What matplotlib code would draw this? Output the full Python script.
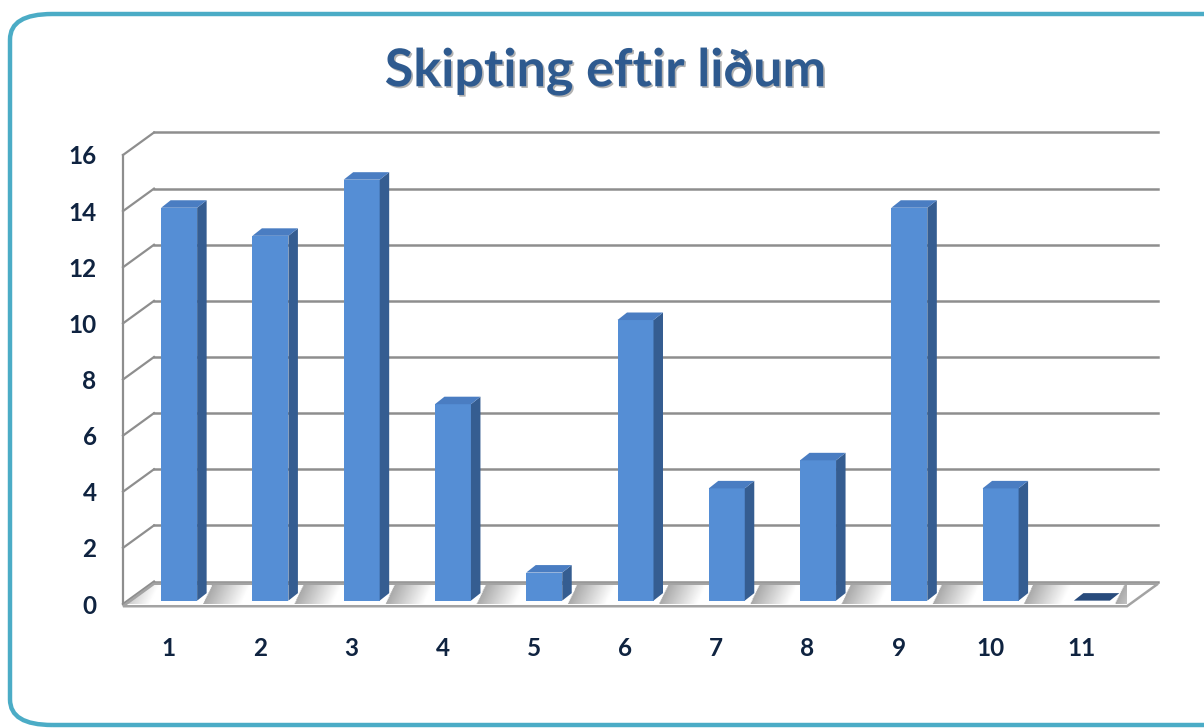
import matplotlib.pyplot as plt
import numpy as np
from matplotlib.patches import Polygon, FancyBboxPatch
import matplotlib.patheffects as pe

# data
categories = [1, 2, 3, 4, 5, 6, 7, 8, 9, 10, 11]
values = [14, 13, 15, 7, 1, 10, 4, 5, 14, 4, 0]
y_ticks = [0, 2, 4, 6, 8, 10, 12, 14, 16]
title = "Skipting eftir liðum"

FONT = ['Lato', 'DejaVu Sans']
GRID_C = '#8e8e8e'
TXT_C = '#0f2340'
FRONT_C = '#558ed5'
SIDE_C = '#355d91'
TOP_C = '#4a7dc2'

fig = plt.figure(figsize=(12.04, 7.28), dpi=100)
W, H = 1204, 728

# outer rounded border
border = FancyBboxPatch((10 / W, 3 / H), 1.2, (711) / H,
                        boxstyle="round,pad=0,rounding_size=0.035",
                        transform=fig.transFigure, fill=False,
                        edgecolor='#4bacc6', linewidth=3.2)
fig.patches.append(border)

fig.text(0.503, 1 - 72 / H, title, ha='center', va='center', fontsize=37.5,
         fontweight='bold', color='#2e5a8f', family=FONT,
         path_effects=[pe.withSimplePatchShadow(offset=(1.2, -1.2), shadow_rgbFace='#000000', alpha=0.3)])

# front plane of the plot box in pixels
ax = fig.add_axes([123 / W, 124 / H, 1004 / W, 449 / H])
ax.set_xlim(0.5, 11.5)
ax.set_ylim(0, 16)
ax.patch.set_visible(False)
px_x = 1004 / 11.0
px_y = 449 / 16.0

# depth offsets (data units)
dxb = 31 / px_x
dyb = 22.5 / px_y
bar_dx = 10.5 / px_x
bar_w = 36 / px_x
bar_bot = 0.12
side_dx = 9.5 / px_x
side_dy = 7.5 / px_y

for s in ['top', 'right', 'bottom']:
    ax.spines[s].set_visible(False)
ax.spines['left'].set_color(GRID_C)
ax.spines['left'].set_linewidth(1.6)

# back wall grid and side wall diagonals
for v in y_ticks:
    ax.plot([0.5 + dxb, 11.5 + dxb], [v + dyb, v + dyb], color=GRID_C, lw=1.8, clip_on=False, zorder=1)
    ax.plot([0.5, 0.5 + dxb], [v, v + dyb], color=GRID_C, lw=1.6, clip_on=False, zorder=1)

# floor with bar shadows
f0 = -0.08
floor_pts = [(0.5, f0), (11.5, f0), (11.5 + dxb, f0 + dyb), (0.5 + dxb, f0 + dyb)]
xs = np.linspace(0.5, 11.5 + dxb, 1200)
ts = np.linspace(0, 1, 40)
XX, TT = np.meshgrid(xs, ts)
edge = bar_dx + bar_w / 2 + side_dx * 0.5
ph = (XX - 1.0 - edge - TT * 0.35 * dxb) % 1.0
fade = np.clip(ph / 0.42, 0, 1)
shade = 0.66 + 0.34 * fade
shade = np.where(ph > 0.85, 1.0, shade)
shade[:3, :] = np.minimum(shade[:3, :], 0.85)
img = ax.imshow(shade, cmap='gray', vmin=0, vmax=1, origin='lower', aspect='auto',
                extent=(0.5, 11.5 + dxb, f0, f0 + dyb), zorder=2, interpolation='bilinear')
img.set_clip_box(None)
img.set_clip_path(Polygon(floor_pts, closed=True, transform=ax.transData))
ax.add_patch(Polygon(floor_pts, closed=True, facecolor='none', edgecolor='#a3a3a3', lw=1.8,
                     clip_on=False, zorder=3))
ax.set_xlim(0.5, 11.5)
ax.set_ylim(0, 16)

# bars: front faces
xpos = np.array(categories, dtype=float) + bar_dx
ax.bar(xpos, values, width=bar_w, bottom=bar_bot, color=FRONT_C, zorder=5, clip_on=False)
for x, v in zip(xpos, values):
    xl, xr = x - bar_w / 2, x + bar_w / 2
    top = bar_bot + v
    if v > 0:
        ax.add_patch(Polygon([(xr, bar_bot), (xr + side_dx, bar_bot + side_dy),
                              (xr + side_dx, top + side_dy), (xr, top)],
                             closed=True, facecolor=SIDE_C, edgecolor='none', zorder=5, clip_on=False))
        ax.add_patch(Polygon([(xl, top), (xr, top), (xr + side_dx, top + side_dy),
                              (xl + side_dx, top + side_dy)],
                             closed=True, facecolor=TOP_C, edgecolor='none', zorder=5, clip_on=False))
    else:
        ax.add_patch(Polygon([(xl, top), (xr, top), (xr + side_dx, top + side_dy),
                              (xl + side_dx, top + side_dy)],
                             closed=True, facecolor='#284b7c', edgecolor='none', zorder=5, clip_on=False))

ax.set_xticks(categories)
ax.set_xticklabels([str(c) for c in categories])
ax.set_yticks(y_ticks)
ax.set_yticklabels([str(v) for v in y_ticks])
ax.tick_params(axis='both', length=0, labelsize=17.5, labelcolor=TXT_C)
ax.tick_params(axis='x', pad=24)
ax.tick_params(axis='y', pad=19)
for lab in ax.get_xticklabels() + ax.get_yticklabels():
    lab.set_fontweight('bold')
    lab.set_family(FONT)

fig.savefig('out.png', dpi=100)
